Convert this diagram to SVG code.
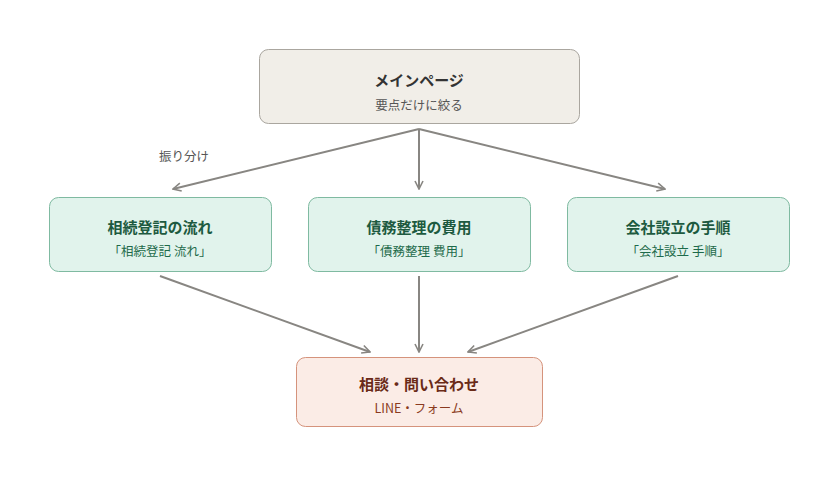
<svg xmlns="http://www.w3.org/2000/svg" width="838" height="480" viewBox="0 0 838 480">
<style>
text{font-family:"Noto Sans CJK JP","Noto Sans",sans-serif;text-anchor:middle}
.t{font-size:15px;font-weight:bold}
.s{font-size:12.5px}
.c{fill:none;stroke:#888682;stroke-width:2}
</style>
<defs><marker id="a" viewBox="0 0 10 10" refX="9" refY="5" markerWidth="10" markerHeight="10" markerUnits="userSpaceOnUse" orient="auto"><path d="M1,1L9,5L1,9" fill="none" stroke="#888682" stroke-width="1.6"/></marker></defs>
<rect width="838" height="480" fill="#fff"/>
<g id="connectors">
<path class="c" marker-end="url(#a)" d="M419,129L173,189"/>
<path class="c" marker-end="url(#a)" d="M419,129L419,189"/>
<path class="c" marker-end="url(#a)" d="M419,129L665,189"/>
<path class="c" marker-end="url(#a)" d="M160,276L370,352"/>
<path class="c" marker-end="url(#a)" d="M419,276L419,352"/>
<path class="c" marker-end="url(#a)" d="M678,276L468,352"/>
<text x="184" y="161" class="s" fill="#555">振り分け</text>
</g>
<g id="main"><rect x="259.5" y="49.5" width="320" height="74" rx="9" fill="#f1eee8" stroke="#aaa69f"/>
<text x="419" y="86" class="t" fill="#333">メインページ</text><text x="419" y="110" class="s" fill="#555">要点だけに絞る</text></g>
<g id="n1"><rect x="49.5" y="197.5" width="222" height="74" rx="9" fill="#e1f3ec" stroke="#7fbaa1"/>
<text x="160" y="233" class="t" fill="#1d5a40">相続登記の流れ</text><text x="160" y="256" class="s" fill="#1d6a4a">「相続登記 流れ」</text></g>
<g id="n2"><rect x="308.5" y="197.5" width="222" height="74" rx="9" fill="#e1f3ec" stroke="#7fbaa1"/>
<text x="419" y="233" class="t" fill="#1d5a40">債務整理の費用</text><text x="419" y="256" class="s" fill="#1d6a4a">「債務整理 費用」</text></g>
<g id="n3"><rect x="567.5" y="197.5" width="222" height="74" rx="9" fill="#e1f3ec" stroke="#7fbaa1"/>
<text x="678" y="233" class="t" fill="#1d5a40">会社設立の手順</text><text x="678" y="256" class="s" fill="#1d6a4a">「会社設立 手順」</text></g>
<g id="contact"><rect x="296.5" y="357.5" width="246" height="69" rx="9" fill="#fbece6" stroke="#d5937c"/>
<text x="419" y="390" class="t" fill="#6a2a18">相談・問い合わせ</text><text x="419" y="413" class="s" fill="#8a3a20">LINE・フォーム</text></g>
</svg>
